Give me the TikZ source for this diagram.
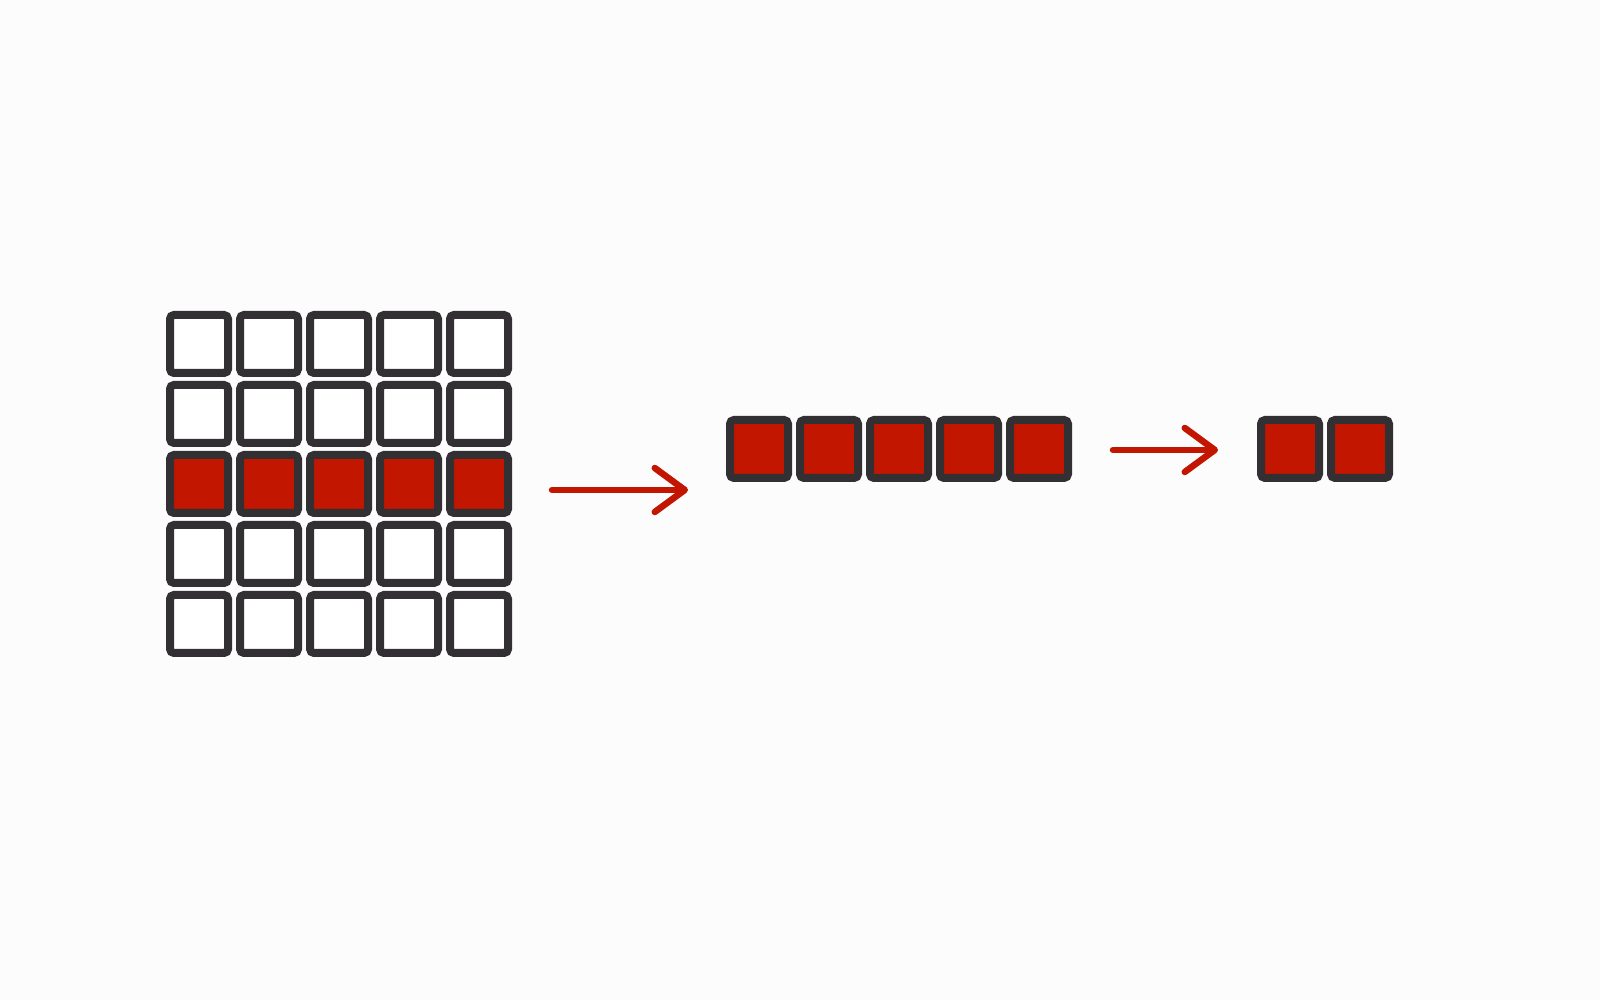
\documentclass[tikz,border=0pt]{standalone}
\usetikzlibrary{arrows.meta}

\definecolor{cellgray}{RGB}{51,48,51}
\definecolor{cellred}{RGB}{194,22,0}
\definecolor{paper}{RGB}{253,252,253}

\tikzset{
  cell/.style={draw=cellgray,line width=0.08cm,rounded corners=0.04cm,
    minimum size=0.58cm,inner sep=0pt,fill=white},
  hot/.style={fill=cellred},
  flow/.style={draw=cellred,line width=0.065cm,line cap=round,
    -{Straight Barb[length=3mm,width=4.4mm,line cap=round,line join=round]}}
}

\begin{document}
\begin{tikzpicture}

      \fill[paper] (0,0) rectangle (16,10);
      \useasboundingbox (0,0) rectangle (16,10);

      \begin{scope}[every node/.style={cell}]
        \node (g11) at (1.99,6.56) {};
        \node (g12) at (2.69,6.56) {};
        \node (g13) at (3.39,6.56) {};
        \node (g14) at (4.09,6.56) {};
        \node (g15) at (4.79,6.56) {};
        \node (g21) at (1.99,5.86) {};
        \node (g22) at (2.69,5.86) {};
        \node (g23) at (3.39,5.86) {};
        \node (g24) at (4.09,5.86) {};
        \node (g25) at (4.79,5.86) {};
        \node[hot] (g31) at (1.99,5.16) {};
        \node[hot] (g32) at (2.69,5.16) {};
        \node[hot] (g33) at (3.39,5.16) {};
        \node[hot] (g34) at (4.09,5.16) {};
        \node[hot] (g35) at (4.79,5.16) {};
        \node (g41) at (1.99,4.46) {};
        \node (g42) at (2.69,4.46) {};
        \node (g43) at (3.39,4.46) {};
        \node (g44) at (4.09,4.46) {};
        \node (g45) at (4.79,4.46) {};
        \node (g51) at (1.99,3.76) {};
        \node (g52) at (2.69,3.76) {};
        \node (g53) at (3.39,3.76) {};
        \node (g54) at (4.09,3.76) {};
        \node (g55) at (4.79,3.76) {};
      \end{scope}

      \begin{scope}[every node/.style={cell,hot}]
        \node (m1) at (7.59,5.51) {};
        \node (m2) at (8.29,5.51) {};
        \node (m3) at (8.99,5.51) {};
        \node (m4) at (9.69,5.51) {};
        \node (m5) at (10.39,5.51) {};
        \node (r1) at (12.90,5.51) {};
        \node (r2) at (13.60,5.51) {};
      \end{scope}

      \coordinate (a1) at (5.52,5.10);
      \coordinate (b1) at (6.88,5.10);
      \coordinate (a2) at (11.13,5.50);
      \coordinate (b2) at (12.18,5.50);

      \draw[flow] (a1) -- (b1);
      \draw[flow] (a2) -- (b2);

    \end{tikzpicture}
\end{document}
